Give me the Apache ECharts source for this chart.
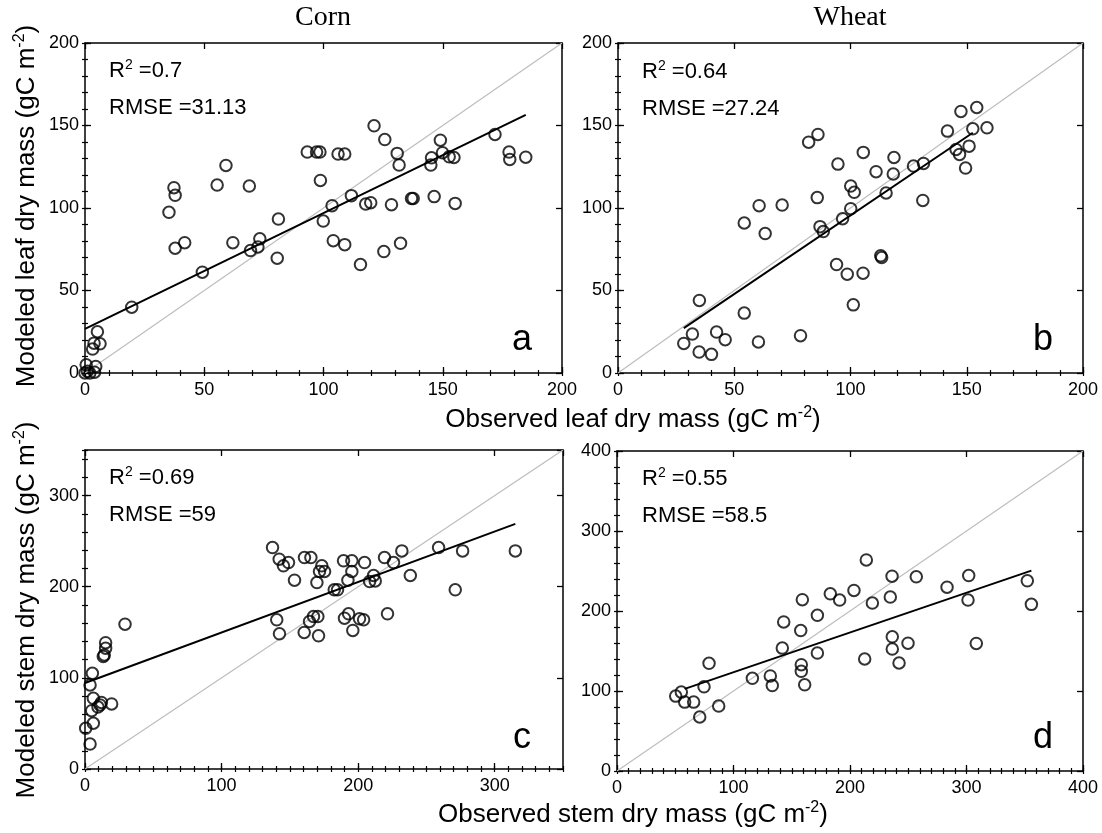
<!DOCTYPE html>
<html>
<head>
<meta charset="utf-8">
<script src="https://cdn.jsdelivr.net/npm/echarts@6/dist/echarts.min.js"></script>
<style>html,body{margin:0;padding:0;background:#fff;}#chart{width:1102px;height:833px;}</style>
</head>
<body>
<div id="chart"></div>
<script>
// ---------- data ----------
const cornLeaf = [[121.2,149.8],[125.7,141.5],[149.0,141.1],[171.9,144.6],[93.2,133.9],[97.1,133.9],[98.5,133.9],[106.1,132.7],[108.9,132.7],[130.9,133.1],[131.7,126.0],[145.3,130.4],[145.0,126.0],[149.9,133.5],[152.7,131.0],[154.7,130.6],[177.8,133.9],[178.1,129.4],[184.8,130.8],[59.1,125.8],[37.3,112.3],[37.8,107.7],[35.2,97.4],[55.4,113.9],[68.9,113.3],[98.7,116.7],[111.7,107.5],[103.6,101.4],[117.7,102.4],[119.8,103.2],[128.5,102.0],[136.9,105.8],[137.6,105.8],[146.4,106.9],[155.2,102.8],[81.1,93.3],[99.9,92.1],[37.8,75.6],[41.8,79.0],[62.0,79.0],[69.4,74.2],[72.5,76.4],[73.3,81.3],[80.6,69.6],[104.1,80.2],[108.9,77.8],[115.5,65.7],[125.3,73.6],[132.3,78.6],[49.2,61.1],[19.6,39.9],[5.2,25.0],[3.8,18.1],[6.3,17.7],[3.2,14.5],[0.5,5.0],[4.5,4.0],[0,0],[2,0],[4,0.5],[1,1]];
const wheatLeaf = [[154.3,160.9],[147.5,158.5],[141.7,146.6],[152.6,148.0],[158.7,148.6],[145.4,135.5],[146.9,132.5],[151.0,137.5],[149.5,124.2],[82.0,139.9],[86.0,144.6],[105.5,133.7],[118.7,130.6],[94.6,126.6],[111.0,122.0],[118.4,120.6],[127.1,125.4],[131.4,127.0],[100.1,113.3],[101.6,109.5],[115.3,109.1],[85.7,106.3],[131.1,104.6],[60.7,101.4],[70.6,101.8],[100.1,99.6],[96.6,93.5],[54.3,90.9],[86.9,88.7],[88.3,85.7],[63.3,84.5],[113.0,71.0],[113.4,70.0],[94.0,65.7],[98.6,59.9],[105.4,60.5],[35.0,44.0],[54.3,36.3],[101.2,41.3],[32.0,23.6],[42.4,24.8],[28.3,17.9],[46.1,20.2],[60.4,18.8],[78.5,22.6],[34.9,12.7],[40.2,11.3]];
const cornStem = [[137.3,243.0],[142.2,230.2],[149.0,226.5],[145.3,222.9],[153.4,207.2],[160.7,232.0],[165.4,232.0],[173.4,222.9],[171.7,216.7],[175.4,216.7],[169.8,204.6],[189.3,228.4],[195.4,228.4],[195.4,216.7],[192.5,207.2],[204.7,226.5],[219.3,232.0],[225.9,226.5],[232.0,239.3],[211.3,212.3],[208.4,205.7],[212.5,206.4],[238.2,212.3],[258.9,243.0],[276.5,239.3],[315.1,239.3],[271.1,196.6],[182.5,196.6],[184.9,196.6],[140.4,163.7],[142.4,148.3],[160.5,149.8],[171.0,146.1],[164.4,161.9],[167.3,167.3],[170.5,167.3],[190.0,165.5],[193.0,170.3],[196.1,152.0],[201.0,164.8],[204.0,163.7],[221.5,170.3],[29.3,158.9],[15.1,138.6],[15.1,132.5],[14.1,125.1],[13.4,123.5],[5.4,105.0],[3.7,92.2],[6.1,77.6],[11.0,70.3],[12.0,73.0],[9.5,68.0],[19.5,71.4],[4.9,64.0],[6.1,50.2],[0.5,44.7],[3.7,27.4]];
const wheatStem = [[214.0,263.8],[236.1,243.5],[256.9,242.7],[301.9,244.3],[352.2,237.7],[355.7,208.3],[283.3,229.8],[301.3,213.7],[203.4,225.7],[183.1,221.5],[191.1,213.7],[159.1,214.1],[219.2,209.9],[234.6,217.4],[172.0,194.6],[143.1,186.3],[157.7,175.6],[141.9,153.6],[172.0,147.4],[236.3,167.7],[236.3,152.4],[249.8,159.8],[308.4,159.4],[212.6,140.0],[242.1,135.0],[158.2,132.9],[158.2,124.6],[161.1,107.7],[116.2,115.9],[131.6,118.8],[133.3,106.8],[79.0,134.6],[74.7,105.2],[55.2,98.6],[50.4,93.6],[58.1,86.1],[65.8,86.1],[87.3,81.2],[71.0,67.5]];
// regression lines (end points)
const cornLeafFit = [[0,26.7],[184.8,156.4]];
const wheatLeafFit = [[28.3,27.2],[152.6,145.6]];
const cornStemFit = [[0,94.3],[315.1,268.9]];
const wheatStemFit = [[58.1,102.7],[355.7,250.5]];
// statistics
const r2Values = ['0.7','0.64','0.69','0.55'];
const rmseValues = ['31.13','27.24','59','58.5'];
const panelLetters = ['a','b','c','d'];
const cropTitles = ['Corn','Wheat'];
// axis ranges / ticks
const axisMax = [200,200,350,400];
const xMajor = [50,50,100,100], xMinor = [10,10,10,10];
const yMajor = [50,50,100,100], yMinor = [10,10,20,20];

// ---------- layout ----------
const grids = [
  {left:85, top:43, width:477, height:330},
  {left:618, top:43, width:465, height:330},
  {left:85, top:450, width:478, height:319},
  {left:617, top:451, width:466, height:320}
];
const scatterData = [cornLeaf, wheatLeaf, cornStem, wheatStem];
const fitData = [cornLeafFit, wheatLeafFit, cornStemFit, wheatStemFit];
const FONT = '"Liberation Sans", Arial, sans-serif';

function makeAxes(dim, g, max, major, minor) {
  const isX = dim === 'x';
  const pos1 = isX ? 'bottom' : 'left', pos2 = isX ? 'top' : 'right';
  const base = {type:'value', gridIndex:g, min:0, max:max, splitLine:{show:false}, splitArea:{show:false}};
  const hideMax = (max % major) !== 0;
  const lbl = {show:true, fontSize:18, color:'#000', fontFamily:FONT, margin: isX ? 8 : 6,
               showMinLabel:true, showMaxLabel: !hideMax};
  const line = {show:true, onZero:false, lineStyle:{color:'#000', width:1.5}};
  const tickMajor = {show:true, inside:true, length:6, lineStyle:{color:'#000', width:1.3}};
  const tickMinor = {show:true, inside:true, length:3, lineStyle:{color:'#000', width:1.2}};
  return [
    Object.assign({}, base, {position:pos1, interval:major, axisLine:line, axisTick:tickMajor, axisLabel:lbl}),
    Object.assign({}, base, {position:pos1, interval:minor, axisLine:{show:false}, axisTick:tickMinor, axisLabel:{show:false}}),
    Object.assign({}, base, {position:pos2, interval:major, axisLine:line, axisTick:tickMajor, axisLabel:{show:false}}),
    Object.assign({}, base, {position:pos2, interval:minor, axisLine:{show:false}, axisTick:tickMinor, axisLabel:{show:false}})
  ];
}

const xAxis = [], yAxis = [], series = [];
for (let i = 0; i < 4; i++) {
  xAxis.push(...makeAxes('x', i, axisMax[i], xMajor[i], xMinor[i]));
  yAxis.push(...makeAxes('y', i, axisMax[i], yMajor[i], yMinor[i]));
  const ai = 4 * i;
  series.push({type:'line', xAxisIndex:ai, yAxisIndex:ai, data:[[0,0],[axisMax[i],axisMax[i]]],
    symbol:'none', silent:true, z:1, lineStyle:{color:'#bdbdbd', width:1.2}});
  series.push({type:'line', xAxisIndex:ai, yAxisIndex:ai, data:fitData[i],
    symbol:'none', silent:true, z:2, lineStyle:{color:'#000', width:2}});
  series.push({type:'scatter', xAxisIndex:ai, yAxisIndex:ai, data:scatterData[i], z:3,
    symbol:'circle', symbolSize:11.5, itemStyle:{color:'rgba(0,0,0,0)', borderColor:'#000', borderWidth:2}});
}

// ---------- texts ----------
const graphic = [];
const titleX = [323, 850];
cropTitles.forEach((t, k) => graphic.push({type:'text', x:titleX[k], y:18,
  style:{text:t, font:'28px "Liberation Serif", "Times New Roman", serif', fill:'#000', align:'center', verticalAlign:'middle'}}));

// text with a superscript
function supText(x, y, before, sup, after, size, supSize, rot, align) {
  const txt = '{n|' + before + '}{s|' + sup + '}' + (after ? '{n|' + after + '}' : '');
  return {type:'text', x:x, y:y, rotation:rot || 0,
    style:{text:txt, font: size + 'px ' + FONT, fill:'#000', align: align || 'center', verticalAlign:'middle',
      rich:{
        n:{fontSize:size, fontFamily:FONT, fill:'#000', lineHeight:Math.round(size*1.08), verticalAlign:'bottom'},
        s:{fontSize:supSize, fontFamily:FONT, fill:'#000', lineHeight:supSize, verticalAlign:'top'}
      }}};
}
graphic.push(supText(26, 206, 'Modeled leaf dry mass (gC m', '-2', ')', 26, 16, Math.PI/2));
graphic.push(supText(26, 610, 'Modeled stem dry mass (gC m', '-2', ')', 26, 16, Math.PI/2));
graphic.push(supText(633, 419, 'Observed leaf dry mass (gC m', '-2', ')', 26, 16, 0));
graphic.push(supText(633, 814, 'Observed stem dry mass (gC m', '-2', ')', 26, 16, 0));

const annX = [109, 642, 109, 642];
const annY = [70, 71, 477, 478];
const letX = [522, 1043, 522, 1043];
const letY = [340, 340, 738, 738];
for (let i = 0; i < 4; i++) {
  graphic.push(supText(annX[i], annY[i], 'R', '2', ' =' + r2Values[i], 22, 14, 0, 'left'));
  graphic.push({type:'text', x:annX[i], y:annY[i] + 38,
    style:{text:'RMSE =' + rmseValues[i], font:'22px ' + FONT, fill:'#000', align:'left', verticalAlign:'middle'}});
  graphic.push({type:'text', x:letX[i], y:letY[i],
    style:{text:panelLetters[i], font:'36px ' + FONT, fill:'#000', align:'center', verticalAlign:'middle'}});
}

const chart = echarts.init(document.getElementById('chart'), null, {renderer:'canvas'});
chart.setOption({
  animation:false,
  backgroundColor:'#fff',
  grid: grids.map(g => Object.assign({containLabel:false, outerBoundsMode:'none'}, g)),
  xAxis: xAxis,
  yAxis: yAxis,
  series: series,
  graphic: graphic
});
</script>
</body>
</html>
